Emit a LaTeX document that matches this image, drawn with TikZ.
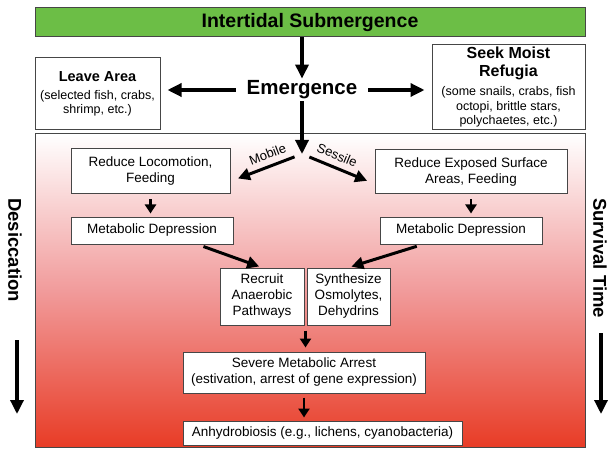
\documentclass[tikz,border=0pt]{standalone}
\usepackage{fontspec}
\setmainfont{Liberation Sans}
\usepackage{tikz}
\usetikzlibrary{arrows,arrows.meta,shapes,positioning,calc}

\definecolor{tidegreen}{RGB}{108,190,70}
\definecolor{dryred}{RGB}{232,60,38}
\definecolor{drypink}{RGB}{241,155,155}
\definecolor{edgegray}{RGB}{70,70,70}

\newcommand{\headfont}{\fontsize{14.5}{17}\selectfont\bfseries}
\newcommand{\notefont}{\fontsize{12.5}{14.5}\selectfont}

\begin{document}
\begin{tikzpicture}[x=1pt,y=-1pt,
>={Triangle[length=14pt,width=13pt]},
line join=miter]
\tikzstyle{titlebar}=[rectangle, draw=edgegray, line width=1pt, fill=tidegreen,
 minimum width=550pt, minimum height=29pt, font=\fontsize{19.5}{22}\selectfont\bfseries]
\tikzstyle{zone}=[rectangle, draw=edgegray, line width=1pt, top color=white,
 bottom color=dryred, middle color=drypink, minimum width=550pt, minimum height=313pt]
\tikzstyle{sidebox}=[rectangle, draw=edgegray, line width=1pt, fill=white, align=center,
 inner sep=2pt, font=\notefont]
\tikzstyle{stepbox}=[rectangle, draw=edgegray, line width=1pt, fill=white, align=center,
 inner sep=2pt, font=\fontsize{13.5}{16}\selectfont]
\tikzstyle{sideword}=[rotate=-90, font=\fontsize{18.5}{20}\selectfont\bfseries, inner sep=0pt]
\tikzstyle{forklabel}=[sloped, above=5pt, inner sep=1pt, font=\fontsize{13}{15}\selectfont]
\tikzstyle{bigarrow}=[->, line width=3.3pt]
\tikzstyle{forkarrow}=[-{Triangle[length=12pt,width=12pt]}, line width=3pt]
\tikzstyle{smallarrow}=[-{Triangle[length=9pt,width=11pt]}, line width=2.8pt]

\useasboundingbox (0,0) rectangle (610,449);

% top row
\node[titlebar] (submerge) at (310,22.5) {Intertidal Submergence};
\node[font=\fontsize{20.5}{23}\selectfont\bfseries, inner xsep=11pt, inner ysep=2pt]
(emerge) at (302,90) {Emergence};

\node[sidebox, minimum width=125pt, minimum height=72pt] (leave) at (97.5,94)
{\headfont Leave Area\\[3pt]
(selected fish, crabs,\\ shrimp, etc.)};

\node[sidebox, minimum width=153pt, minimum height=85pt] (refugia) at (508.5,87.5)
{\headfont\fontsize{16}{18}\selectfont Seek Moist\\[3pt]
\headfont\fontsize{16}{18}\selectfont Refugia\\[5pt]
(some snails, crabs, fish\\ octopi, brittle stars,\\ polychaetes, etc.)};

% drying zone
\node[zone] (zone) at (310,290.5) {};

\node[stepbox, minimum width=159pt, minimum height=45pt] (locomotion) at (150.5,171.5)
{Reduce Locomotion,\\ Feeding};
\node[stepbox, minimum width=192pt, minimum height=44pt] (exposure) at (471,172)
{Reduce Exposed Surface\\ Areas, Feeding};

\node[stepbox, minimum width=162pt, minimum height=27pt] (depressL) at (152,230.5)
{Metabolic Depression};
\node[stepbox, minimum width=162pt, minimum height=27pt] (depressR) at (461,230.5)
{Metabolic Depression};

\node[stepbox, minimum width=84pt, minimum height=57pt] (recruit) at (262,296.5)
{Recruit\\ Anaerobic\\ Pathways};
\node[stepbox, minimum width=83pt, minimum height=57pt] (synth) [right=2pt of recruit]
{Synthesize\\ Osmolytes,\\ Dehydrins};

\node[stepbox, minimum width=242pt, minimum height=41pt] (arrest) at (304,372.5)
{Severe Metabolic Arrest\\ (estivation, arrest of gene expression)};
\node[stepbox, minimum width=279pt, minimum height=24pt] (anhydro)
[below=27pt of arrest.south west, anchor=north west]
{Anhydrobiosis (e.g., lichens, cyanobacteria)};

% side labels
\node[sideword] (desic) at (15,250) {Desiccation};
\node[sideword] (survive) at (600,258) {Survival Time};
\coordinate (dtop) at (17,340);
\coordinate (dbot) at (17,414);
\coordinate (stop) at (601,333);
\coordinate (sbot) at (601,414);

% arrows
\draw[bigarrow] (submerge.south -| emerge.north) -- (emerge.north);
\draw[bigarrow, shorten >=7pt] (emerge.west) -- (emerge.west -| leave.east);
\draw[bigarrow, shorten >=7pt] (emerge.east) -- (emerge.east -| refugia.west);

\coordinate (fork) at (302,154);
\draw[bigarrow] (emerge.south) -- (fork);
\draw[forkarrow, shorten <=8pt, shorten >=8pt] (fork) --
 node[forklabel, pos=0.42] {Mobile} (locomotion.-7);
\draw[forkarrow, shorten <=8pt, shorten >=8pt] (fork) --
 node[forklabel, pos=0.42] {Sessile} (exposure.187);

\draw[smallarrow, shorten <=5pt, shorten >=3pt] (locomotion.south) -- (locomotion.south |- depressL.north);
\draw[smallarrow, shorten <=5pt, shorten >=3pt] (exposure.south) -- (exposure.south |- depressR.north);

\draw[forkarrow, shorten <=6pt, shorten >=3pt] (depressL.-17) -- (recruit.north);
\draw[forkarrow, shorten <=6pt, shorten >=3pt] (depressR.200) -- (synth.north);

\coordinate (merge) at ($(recruit.south east)!0.5!(synth.south west)$);
\draw[smallarrow, shorten <=5pt, shorten >=4pt] (merge) -- (merge |- arrest.north);
\draw[smallarrow, shorten <=4pt, shorten >=3pt] (arrest.south) -- (arrest.south |- anhydro.north);

\draw[bigarrow] (dtop) -- (dbot);
\draw[bigarrow] (stop) -- (sbot);

\end{tikzpicture}
\end{document}
